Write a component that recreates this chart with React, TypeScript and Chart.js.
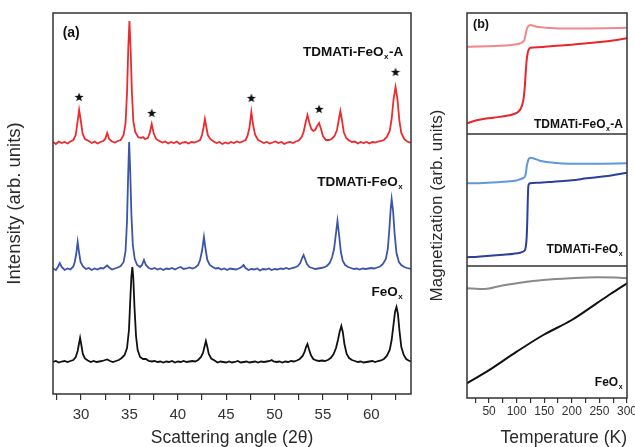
import React, { useEffect, useRef } from "react";
import { Chart, registerables } from "chart.js";
Chart.register(...registerables);

const FONT = '"Liberation Sans", Arial, Helvetica, sans-serif';

// ---------- Panel (a): XRD ----------
const xrdTicks = [27.5, 30, 32.5, 35, 37.5, 40, 42.5, 45, 47.5, 50, 52.5, 55, 57.5, 60, 62.5];
const xrdSeriesNames = ["TDMATi-FeOx-A", "TDMATi-FeOx", "FeOx"];
const xrdOffsets = [251, 125, 32];
const xrdColors = ["#ec2b2e", "#3a55aa", "#111111"];

// intensity above each pattern's own baseline (arb. units)
const xrdAnnealed: [number, number][] = [
  [27.1,1],[27.4,-1],[27.7,1.5],[28.0,0],[28.3,1],[28.6,-0.5],[28.9,1.5],[29.2,3],[29.45,8],[29.62,20],[29.8,33],[29.98,22],[30.15,10],[30.4,4],[30.8,2],[31.1,0],[31.4,1.5],[31.7,-0.5],[32.0,1],[32.3,2],[32.5,4],[32.7,10],[32.9,4],[33.2,1.5],[33.5,0.5],[33.8,2],[34.1,3],[34.4,8],[34.6,20],[34.75,50],[34.88,95],[35.0,122],[35.12,95],[35.25,52],[35.4,22],[35.6,11],[35.9,6],[36.2,5],[36.4,6],[36.6,4],[36.9,5],[37.1,10],[37.3,19],[37.5,10],[37.75,4],[38.1,2],[38.4,0.5],[38.7,1.5],[39.0,-0.5],[39.3,1],[39.6,0],[39.9,1.5],[40.2,-1],[40.5,0.5],[40.8,1],[41.1,-0.5],[41.4,1],[41.7,0.5],[42.0,1.5],[42.3,3],[42.5,8],[42.65,15],[42.8,24],[42.95,16],[43.1,8],[43.35,4],[43.7,1.5],[44.0,0],[44.3,1],[44.6,-1],[44.9,0.5],[45.2,-0.5],[45.5,1],[45.8,0],[46.1,1.5],[46.4,0.5],[46.7,1.5],[47.0,3],[47.2,7],[47.4,15],[47.6,31],[47.8,17],[48.0,8],[48.3,3],[48.6,1.5],[48.9,0],[49.2,1],[49.5,-0.5],[49.8,0.5],[50.1,1.5],[50.4,0],[50.7,1],[51.0,-1],[51.3,0.5],[51.6,1],[51.9,0],[52.2,1.5],[52.5,2.5],[52.8,6],[53.0,11],[53.2,20],[53.4,28],[53.6,20],[53.8,14],[54.0,12],[54.2,13],[54.4,17],[54.6,20],[54.8,14],[55.0,7],[55.3,3],[55.6,3],[55.9,4],[56.2,7],[56.45,13],[56.65,24],[56.8,32],[56.95,24],[57.15,11],[57.4,5],[57.7,2.5],[58.0,1],[58.3,1.5],[58.6,-0.5],[58.9,1],[59.2,0],[59.5,1],[59.8,-0.5],[60.1,1],[60.4,0.5],[60.7,1.5],[61.0,2],[61.3,3],[61.6,6],[61.9,12],[62.1,24],[62.3,44],[62.5,56],[62.7,44],[62.9,22],[63.1,10],[63.4,4],[63.7,1.5],[64.0,0.5],[64.1,1],
];
const xrdTdmati: [number, number][] = [
  [27.1,0.5],[27.4,-1],[27.6,2],[27.8,6],[28.0,2],[28.3,-1],[28.6,0.5],[28.9,-0.5],[29.2,2.5],[29.35,7],[29.5,15],[29.65,27],[29.8,16],[29.95,7],[30.2,2.5],[30.5,0],[30.8,1],[31.1,-1],[31.4,0.5],[31.7,-0.5],[32.0,1],[32.3,0.5],[32.5,2],[32.7,3.5],[32.9,1.5],[33.2,-0.5],[33.5,0.5],[33.8,1.5],[34.1,3],[34.4,7],[34.6,18],[34.75,48],[34.87,95],[34.97,127],[35.08,98],[35.2,55],[35.35,24],[35.55,10],[35.8,4],[36.1,2],[36.3,4],[36.5,9],[36.7,4],[37.0,1],[37.3,0],[37.6,1],[37.9,-0.5],[38.2,0.5],[38.5,-1],[38.8,0.5],[39.1,0],[39.4,1],[39.7,-0.5],[40.0,1],[40.3,2],[40.6,0],[40.9,0.5],[41.2,1.5],[41.5,0.5],[41.8,1.5],[42.1,4],[42.3,9],[42.5,18],[42.7,32],[42.88,19],[43.05,9],[43.3,4],[43.6,2],[43.9,0.5],[44.2,1],[44.5,-0.5],[44.8,0.5],[45.1,-1],[45.4,0.5],[45.7,0],[46.0,-0.5],[46.3,0.5],[46.6,2],[46.8,4],[47.0,1],[47.3,-1],[47.6,0],[47.9,-0.5],[48.2,0.5],[48.5,-1.5],[48.8,0],[49.1,-0.5],[49.4,0.5],[49.7,-1],[50.0,0],[50.3,-0.5],[50.6,0.5],[50.9,0],[51.2,1],[51.5,0],[51.8,1],[52.1,1.5],[52.4,3],[52.65,6],[52.85,11],[53.0,14],[53.15,10],[53.35,5],[53.6,2],[53.9,1],[54.2,0],[54.5,0.5],[54.8,1],[55.1,1.5],[55.4,3],[55.7,6],[55.95,12],[56.15,20],[56.3,32],[56.5,48],[56.68,33],[56.85,17],[57.05,8],[57.3,4],[57.6,2],[57.9,1],[58.2,0],[58.5,0.5],[58.8,-0.5],[59.1,0.5],[59.4,0],[59.7,0.5],[60.0,1],[60.3,0.5],[60.6,1.5],[60.9,2.5],[61.2,5],[61.5,10],[61.7,20],[61.85,38],[62.0,60],[62.1,70],[62.25,58],[62.4,36],[62.6,16],[62.85,7],[63.1,4],[63.4,2],[63.7,1],[64.1,0],
];
const xrdFeOx: [number, number][] = [
  [27.1,0],[27.4,1],[27.7,-0.5],[28.0,0.5],[28.3,1],[28.6,0],[28.9,1],[29.2,2],[29.45,5],[29.65,11],[29.78,18],[29.9,24],[30.03,17],[30.18,8],[30.4,3.5],[30.7,1.5],[31.0,0],[31.3,1],[31.6,0],[31.9,0.5],[32.2,1],[32.5,2],[32.7,2.5],[33.0,1],[33.3,0],[33.6,1],[33.9,2],[34.2,4],[34.5,7],[34.75,14],[34.95,32],[35.1,65],[35.2,85],[35.3,95],[35.4,84],[35.52,55],[35.68,26],[35.85,12],[36.1,5],[36.4,3],[36.7,3],[37.0,1],[37.3,0.5],[37.6,1],[37.9,0],[38.2,0.5],[38.5,-0.5],[38.8,0.5],[39.1,0],[39.4,1],[39.7,-0.5],[40.0,0.5],[40.3,0],[40.6,1],[40.9,0],[41.2,0.5],[41.5,1],[41.8,0.5],[42.1,2],[42.4,5],[42.6,9],[42.75,15],[42.9,21],[43.05,15],[43.2,8],[43.45,3.5],[43.8,1.5],[44.1,-0.5],[44.4,0.5],[44.7,0],[45.0,-0.5],[45.3,0.5],[45.6,-0.5],[45.9,0],[46.2,1],[46.5,-0.5],[46.8,0],[47.1,0.5],[47.4,-0.5],[47.7,0],[48.0,0.5],[48.3,-0.5],[48.6,0.5],[48.9,0],[49.2,0.5],[49.5,1],[49.7,2],[49.9,0.5],[50.2,0],[50.5,0.5],[50.8,-0.5],[51.1,0.5],[51.4,0],[51.7,1],[52.0,0.5],[52.3,1.5],[52.6,3],[52.9,6],[53.1,10],[53.25,15],[53.4,18],[53.55,13],[53.75,7],[54.0,3],[54.3,1.5],[54.6,1],[54.9,1.5],[55.2,1],[55.5,2],[55.8,4],[56.1,8],[56.35,14],[56.55,22],[56.72,30],[56.9,36],[57.05,30],[57.22,18],[57.45,8],[57.7,4],[58.0,2],[58.3,1],[58.6,0],[58.9,0.5],[59.2,-0.5],[59.5,0],[59.8,0.5],[60.1,1],[60.4,0],[60.7,1],[61.0,1.5],[61.3,3],[61.6,6],[61.9,12],[62.1,22],[62.3,38],[62.45,50],[62.6,55],[62.75,48],[62.9,32],[63.1,15],[63.35,7],[63.6,3],[63.85,1.5],[64.1,0.5],
];
// starred reflections on the annealed pattern (2θ, height above its baseline)
const starAngles = [29.8, 37.3, 47.6, 54.6, 62.5];
const starHeights = [46, 30, 45, 34, 71];

// ---------- Panel (b): magnetization vs temperature ----------
const tempTicks = [25, 50, 75, 100, 125, 150, 175, 200, 225, 250, 275, 300];
const magSeriesNames = ["TDMATi-FeOx-A FC", "TDMATi-FeOx-A ZFC", "TDMATi-FeOx FC", "TDMATi-FeOx ZFC", "FeOx FC", "FeOx ZFC"];
const magColors = ["#f2878a", "#e8262b", "#5f98dc", "#2c3f9e", "#8a8a8a", "#111111"];
const magAnnealedFC: [number, number][] = [
  [10,351.3],[30,351.4],[50,351.7],[70,352.2],[90,353],[100,353.7],[106,354.5],[111,356],[114,358],[116,363],[118,368],[120,371],[123,372.7],[126,373],[130,372.2],[136,371.3],[145,370.7],[160,370],[180,369.6],[200,369.5],[230,369.6],[260,369.8],[300,370.3],
];
const magAnnealedZFC: [number, number][] = [
  [10,274.7],[20,276.5],[30,278],[45,279.5],[60,280.5],[80,282],[95,284],[103,286.3],[108,290],[111,295],[113,301],[115,313],[116.5,326],[118,337],[120,345],[122,348.5],[125,350.2],[140,350.8],[166,352],[200,353.2],[227,354.7],[260,356.5],[300,359.7],
];
const magTdmatiFC: [number, number][] = [
  [10,214.7],[40,215],[76,216.3],[100,217.5],[106,218.7],[112,220],[115,221.3],[117,226],[118.2,231.3],[120,236],[121.1,238],[123,239.7],[125.5,240.3],[130,239.7],[142.3,237.3],[166.4,235.3],[197,234.3],[240,234.3],[300,234.7],
];
const magTdmatiZFC: [number, number][] = [
  [10,140.7],[30,141.3],[45.7,142],[75.8,143.3],[95,144.3],[106,145.3],[112,146.5],[115.1,148],[117,153],[118.2,161.3],[119.3,178],[120.2,198],[121.1,211.3],[122.5,214],[124.2,214.7],[140,215.2],[166.4,216.3],[200,217.7],[227,219.7],[260,221.8],[300,225.3],
];
const magFeOxFC: [number, number][] = [
  [10,109.7],[33.6,109],[50,109.6],[63.8,111.3],[85,113.5],[106.1,115.3],[130,117],[148.3,118],[196.7,119.7],[245,120.7],[287,120.3],[300,119.7],
];
const magFeOxZFC: [number, number][] = [
  [10,14.7],[45.7,26.3],[100.1,46.3],[148.3,63],[199.8,78],[245,94.7],[270,104],[300,114.7],
];
const magSeries = [magAnnealedFC, magAnnealedZFC, magTdmatiFC, magTdmatiZFC, magFeOxFC, magFeOxZFC];

// ---------- plugins ----------
const framePlugin = {
  id: "frame",
  afterDatasetsDraw(chart: any, _args: any, opts: any) {
    const { ctx, chartArea } = chart;
    const { left, top, right, bottom } = chartArea;
    const y = chart.scales.y;
    ctx.save();
    ctx.strokeStyle = opts.color || "#333";
    ctx.lineWidth = opts.width || 1.5;
    ctx.strokeRect(left, top, right - left, bottom - top);
    for (const d of opts.dividers || []) {
      const py = y.getPixelForValue(d);
      ctx.beginPath();
      ctx.moveTo(left, py);
      ctx.lineTo(right, py);
      ctx.stroke();
    }
    ctx.restore();
  },
};

const textPlugin = {
  id: "texts",
  afterDatasetsDraw(chart: any, _args: any, opts: any) {
    const { ctx } = chart;
    const xs = chart.scales.x;
    const ys = chart.scales.y;
    for (const t of opts.items || []) {
      const [main, sub, tail] = t.parts as string[];
      const size = t.size;
      const mainFont = `bold ${size}px ${FONT}`;
      const subFont = `bold ${Math.round(size * 0.62)}px ${FONT}`;
      ctx.save();
      ctx.fillStyle = "#111";
      ctx.textBaseline = "middle";
      ctx.textAlign = "left";
      ctx.font = mainFont;
      const w1 = ctx.measureText(main).width;
      const w3 = ctx.measureText(tail).width;
      ctx.font = subFont;
      const w2 = sub ? ctx.measureText(sub).width + 1 : 0;
      const total = w1 + w2 + w3;
      const px = xs.getPixelForValue(t.x);
      const py = ys.getPixelForValue(t.y);
      let cx = t.align === "right" ? px - total : px;
      ctx.font = mainFont;
      ctx.fillText(main, cx, py);
      cx += w1;
      if (sub) {
        ctx.font = subFont;
        ctx.fillText(sub, cx + 0.5, py + size * 0.38);
        cx += w2;
      }
      if (tail) {
        ctx.font = mainFont;
        ctx.fillText(tail, cx, py);
      }
      ctx.restore();
    }
  },
};

function makeStarGlyph(): HTMLCanvasElement {
  const c = document.createElement("canvas");
  c.width = 10;
  c.height = 10;
  const g = c.getContext("2d") as CanvasRenderingContext2D;
  g.fillStyle = "#111";
  g.beginPath();
  for (let k = 0; k < 10; k++) {
    const r = k % 2 === 0 ? 4.8 : 2.0;
    const ang = -Math.PI / 2 + (k * Math.PI) / 5;
    const px = 5 + r * Math.cos(ang);
    const py = 5.4 + r * Math.sin(ang);
    if (k === 0) g.moveTo(px, py);
    else g.lineTo(px, py);
  }
  g.closePath();
  g.fill();
  return c;
}

function toPoints(arr: [number, number][], offset = 0) {
  return arr.map(([x, y]) => ({ x, y: y + offset }));
}

function configA(): any {
  const patterns = [xrdAnnealed, xrdTdmati, xrdFeOx];
  const datasets: any[] = patterns.map((p, i) => ({
    label: xrdSeriesNames[i],
    data: toPoints(p, xrdOffsets[i]),
    borderColor: xrdColors[i],
    borderWidth: 1.8,
    pointRadius: 0,
    tension: 0,
    fill: false,
  }));
  datasets.push({
    label: "stars",
    data: starAngles.map((a, i) => ({ x: a, y: starHeights[i] + xrdOffsets[0] })),
    showLine: false,
    pointStyle: makeStarGlyph(),
    pointRadius: 5,
  });
  return {
    type: "line",
    data: { datasets },
    plugins: [framePlugin, textPlugin],
    options: {
      responsive: false,
      animation: false,
      events: [],
      layout: { padding: { left: 0, right: 9, top: 13, bottom: 0 } },
      plugins: {
        legend: { display: false },
        tooltip: { enabled: false },
        frame: { color: "#333", width: 1.5 },
        texts: {
          items: [
            { parts: ["(a)", "", ""], x: 28.1, y: 361, size: 14, align: "left" },
            { parts: ["TDMATi-FeO", "x", "-A"], x: 63.3, y: 342, size: 13.5, align: "right" },
            { parts: ["TDMATi-FeO", "x", ""], x: 63.3, y: 212, size: 13.5, align: "right" },
            { parts: ["FeO", "x", ""], x: 63.3, y: 102, size: 13.5, align: "right" },
          ],
        },
      },
      scales: {
        x: {
          type: "linear",
          min: 27.1,
          max: 64.1,
          afterBuildTicks: (s: any) => {
            s.ticks = xrdTicks.map((v) => ({ value: v }));
          },
          afterFit: (s: any) => {
            s.height = 53;
            s.paddingLeft = 0;
            s.paddingRight = 0;
          },
          ticks: {
            autoSkip: false,
            maxRotation: 0,
            padding: 6,
            color: "#333",
            font: { size: 15 },
            callback: (v: number) => (v % 5 === 0 ? String(v) : ""),
          },
          grid: { drawOnChartArea: false, drawTicks: true, tickLength: 6, color: "#333", lineWidth: 1.2 },
          border: { display: false },
          title: {
            display: true,
            text: "Scattering angle (2θ)",
            color: "#2a2a2a",
            font: { size: 17.5, lineHeight: 1 },
            padding: { top: 0, bottom: 0 },
          },
        },
        y: {
          type: "linear",
          min: 0,
          max: 381,
          afterFit: (s: any) => {
            s.width = 53;
          },
          ticks: { display: false },
          grid: { display: false },
          border: { display: false },
          title: {
            display: true,
            text: "Intensity (arb. units)",
            color: "#2a2a2a",
            font: { size: 18.5 },
            padding: { top: 4, bottom: 4 },
          },
        },
      },
    },
  };
}

function configB(): any {
  const datasets = magSeries.map((s, i) => ({
    label: magSeriesNames[i],
    data: toPoints(s),
    borderColor: magColors[i],
    borderWidth: 2,
    pointRadius: 0,
    cubicInterpolationMode: "monotone",
    fill: false,
  }));
  return {
    type: "line",
    data: { datasets },
    plugins: [framePlugin, textPlugin],
    options: {
      responsive: false,
      animation: false,
      events: [],
      layout: { padding: { left: 0, right: 8, top: 13, bottom: 0 } },
      plugins: {
        legend: { display: false },
        tooltip: { enabled: false },
        frame: { color: "#333", width: 1.5, dividers: [264, 132] },
        texts: {
          items: [
            { parts: ["(b)", "", ""], x: 20.9, y: 373, size: 12.5, align: "left" },
            { parts: ["TDMATi-FeO", "x", "-A"], x: 292.8, y: 273, size: 12, align: "right" },
            { parts: ["TDMATi-FeO", "x", ""], x: 292.8, y: 148, size: 12, align: "right" },
            { parts: ["FeO", "x", ""], x: 292.8, y: 15, size: 12, align: "right" },
          ],
        },
      },
      scales: {
        x: {
          type: "linear",
          min: 10,
          max: 300,
          afterBuildTicks: (s: any) => {
            s.ticks = tempTicks.map((v) => ({ value: v }));
          },
          afterFit: (s: any) => {
            s.height = 49;
            s.paddingLeft = 0;
            s.paddingRight = 0;
          },
          ticks: {
            autoSkip: false,
            maxRotation: 0,
            padding: 1,
            color: "#333",
            font: { size: 12 },
            callback: (v: number) => (v % 50 === 0 ? String(v) : ""),
          },
          grid: { drawOnChartArea: false, drawTicks: true, tickLength: 5, color: "#333", lineWidth: 1.2 },
          border: { display: false },
          title: {
            display: true,
            text: "Temperature (K)",
            align: "end",
            color: "#2a2a2a",
            font: { size: 17.5, lineHeight: 1 },
            padding: { top: 0, bottom: 0 },
          },
        },
        y: {
          type: "linear",
          min: 0,
          max: 385,
          afterFit: (s: any) => {
            s.width = 47;
          },
          ticks: { display: false },
          grid: { display: false },
          border: { display: false },
          title: {
            display: true,
            text: "Magnetization (arb. units)",
            color: "#2a2a2a",
            font: { size: 17 },
            padding: { top: 7, bottom: 4 },
          },
        },
      },
    },
  };
}

export default function App() {
  const refA = useRef<HTMLCanvasElement>(null);
  const refB = useRef<HTMLCanvasElement>(null);
  useEffect(() => {
    Chart.defaults.font.family = FONT;
    const a = new Chart(refA.current as HTMLCanvasElement, configA());
    const b = new Chart(refB.current as HTMLCanvasElement, configB());
    return () => {
      a.destroy();
      b.destroy();
    };
  }, []);
  return (
    <div style={{ position: "absolute", left: 0, top: 0, width: 635, height: 447, background: "#fff", overflow: "hidden" }}>
      <canvas ref={refA} width={420} height={447} style={{ position: "absolute", left: 0, top: 0 }} />
      <canvas ref={refB} width={215} height={447} style={{ position: "absolute", left: 420, top: 0 }} />
    </div>
  );
}
